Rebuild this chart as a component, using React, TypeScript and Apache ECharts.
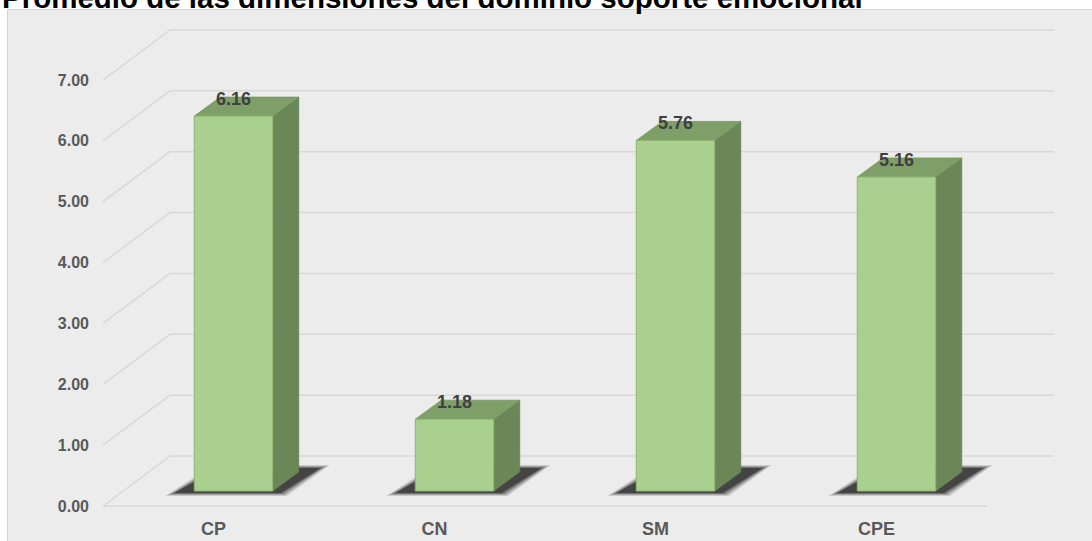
import React, { useEffect, useRef } from "react";
import * as echarts from "echarts";

const titleText = "Promedio de las dimensiones del dominio soporte emocional";
const categories = ["CP", "CN", "SM", "CPE"];
const values = [6.16, 1.18, 5.76, 5.16];
const yTicks = [0, 1, 2, 3, 4, 5, 6, 7];

const FONT = "'Liberation Sans', Arial, sans-serif";
// depth of the 3D box (wall) in pixels
const WALL_DX = 67;
const WALL_DY = -50;
// bar placement inside the depth
const BAR_OFF_X = 20;
const BAR_OFF_Y = -15;
const BAR_DX = 26;
const BAR_DY = -19;

export default function App() {
  const ref = useRef<HTMLDivElement>(null);

  useEffect(() => {
    if (!ref.current) return;
    const chart = echarts.init(ref.current, null, { renderer: "svg" });

    const gridRender = (params: any, api: any) => {
      const cs = params.coordSys;
      const v = api.value(1);
      const y = api.coord([0, v])[1];
      const style = { stroke: "#d8d8d8", lineWidth: 1.5, fill: null };
      const children: any[] = [
        {
          type: "polyline",
          shape: {
            points: [
              [cs.x, y],
              [cs.x + WALL_DX, y + WALL_DY],
              [cs.x + cs.width + WALL_DX, y + WALL_DY],
            ],
          },
          style,
        },
      ];
      if (v === 0) {
        children.push({
          type: "line",
          shape: { x1: cs.x, y1: y, x2: cs.x + cs.width, y2: y },
          style,
        });
      }
      return { type: "group", children };
    };

    const barRender = (params: any, api: any) => {
      const idx = api.value(0);
      const v = api.value(1);
      const top = api.coord([idx, v]);
      const base = api.coord([idx, 0]);
      const bw = api.size([1, 0])[0] * 0.355;
      const fx = top[0] + BAR_OFF_X - bw / 2;
      const ty = top[1] + BAR_OFF_Y;
      const by = base[1] + BAR_OFF_Y;
      // soft shadow, built from layered translucent polygons
      const shadows: any[] = [];
      const layers = [
        { g: 6, a: 0.15 },
        { g: 4, a: 0.22 },
        { g: 2, a: 0.32 },
        { g: 0, a: 0.5 },
      ];
      layers.forEach((l) => {
        const g = l.g;
        shadows.push({
          type: "polygon",
          shape: {
            points: [
              [fx - 20 - g * 1.5, by + 2 + g * 0.5],
              [fx + bw + 8 + g, by + 2 + g * 0.5],
              [fx + bw + 48 + g * 1.5, by - 23 - g * 0.5],
              [fx + 25 - g, by - 23 - g * 0.5],
            ],
          },
          style: { fill: `rgba(20,20,20,${l.a})` },
        });
      });
      return {
        type: "group",
        children: [
          ...shadows,
          {
            type: "polygon",
            shape: {
              points: [
                [fx + bw, ty],
                [fx + bw + BAR_DX, ty + BAR_DY],
                [fx + bw + BAR_DX, by + BAR_DY],
                [fx + bw, by],
              ],
            },
            style: { fill: "#6b8758", stroke: "#65824f", lineWidth: 0.8 },
          },
          {
            type: "polygon",
            shape: {
              points: [
                [fx, ty],
                [fx + bw, ty],
                [fx + bw + BAR_DX, ty + BAR_DY],
                [fx + BAR_DX, ty + BAR_DY],
              ],
            },
            style: { fill: "#7f9f68", stroke: "#79985f", lineWidth: 0.8 },
          },
          {
            type: "rect",
            shape: { x: fx, y: ty, width: bw, height: by - ty },
            style: { fill: "#a9d08e", stroke: "#8fb473", lineWidth: 1 },
          },
          {
            type: "text",
            style: {
              text: v.toFixed(2),
              x: fx + bw / 2,
              y: ty + BAR_DY + 2,
              align: "center",
              verticalAlign: "middle",
              font: `bold 18px ${FONT}`,
              fill: "#404040",
            },
          },
        ],
      };
    };

    chart.setOption({
      animation: false,
      graphic: [
        {
          type: "rect",
          z: 0,
          shape: { x: 7.5, y: 9.5, width: 1090, height: 540 },
          style: { fill: "#ececec", stroke: "#d6d6d6", lineWidth: 1 },
        },
        {
          type: "text",
          z: 1,
          x: 2,
          y: -3,
          style: {
            text: titleText,
            font: `bold 29.5px ${FONT}`,
            fill: "#000000",
            verticalAlign: "middle",
            align: "left",
          },
        },
      ],
      grid: { left: 103, top: 80, width: 884, height: 426, containLabel: false },
      xAxis: {
        type: "category",
        data: categories,
        axisLine: { show: false },
        axisTick: { show: false },
        splitLine: { show: false },
        axisLabel: {
          margin: 14,
          color: "#595959",
          fontFamily: FONT,
          fontWeight: "bold",
          fontSize: 18,
        },
      },
      yAxis: {
        type: "value",
        min: 0,
        max: 7,
        interval: 1,
        axisLine: { show: false },
        axisTick: { show: false },
        splitLine: { show: false },
        axisLabel: {
          margin: 14,
          color: "#595959",
          fontFamily: FONT,
          fontWeight: "bold",
          fontSize: 16,
          formatter: (v: number) => v.toFixed(2),
        },
      },
      series: [
        {
          type: "custom",
          renderItem: gridRender,
          data: yTicks.map((t) => [0, t]),
          z: 1,
          silent: true,
          clip: false,
        },
        {
          type: "custom",
          renderItem: barRender,
          data: categories.map((c, i) => [i, values[i]]),
          z: 3,
          clip: false,
        },
      ],
    });

    return () => chart.dispose();
  }, []);

  return (
    <div
      ref={ref}
      style={{ position: "fixed", left: 0, top: 0, width: 1092, height: 541, background: "#ffffff" }}
    />
  );
}
